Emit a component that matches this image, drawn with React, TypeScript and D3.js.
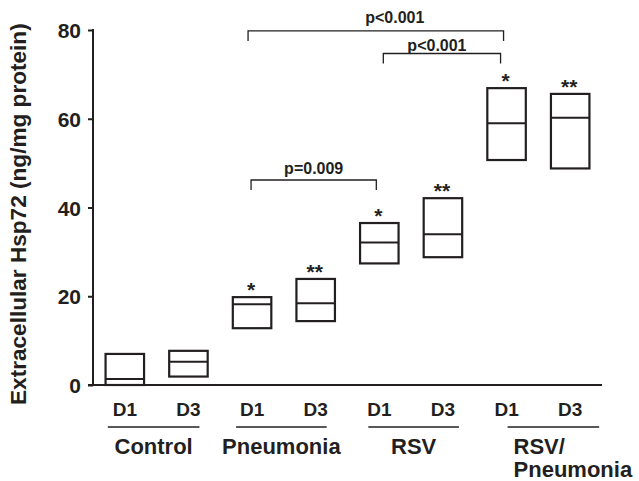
import * as React from 'react';
import * as d3 from 'd3';

// --- data ---
const days = ['D1', 'D3', 'D1', 'D3', 'D1', 'D3', 'D1', 'D3'];
const groups = ['Control', 'Pneumonia', 'RSV', 'RSV/\nPneumonia'];
const lows = [0, 1.9, 12.8, 14.4, 27.4, 28.8, 50.7, 48.8];
const medians = [1.35, 5.25, 18.2, 18.4, 32.1, 34.0, 59.0, 60.2];
const highs = [7.0, 7.7, 19.8, 23.9, 36.5, 42.1, 66.9, 65.6];
const stars = ['', '', '*', '**', '*', '**', '*', '**'];
const yTicks = [0, 20, 40, 60, 80];

const bracketFrom = [2, 4, 2];
const bracketTo = [6, 6, 4];
const bracketLevel = [79.8, 74.7, 46.2];
const bracketLabels = ['p<0.001', 'p<0.001', 'p=0.009'];

// layout tweaks (pixels)
const bracketDx = [[-4, -3], [4, -6], [-1, -3]];
const bracketLabelDx = [19, -5, 0];
const bracketLabelDy = [-8, -3, -6];
const groupLineDx = [[-17, 11], [-16, 11], [-11, 16], [1, 29]];

const INK = '#231f20';
const FONT = '"Liberation Sans", Arial, Helvetica, sans-serif';

export default function App() {
  const ref = React.useRef<SVGSVGElement>(null);

  React.useEffect(() => {
    const svg = d3.select(ref.current);
    svg.selectAll('*').remove();

    const x = d3.scaleBand<number>().domain(d3.range(days.length)).range([93, 602]);
    const y = d3.scaleLinear().domain([0, 80]).range([385, 30]);
    const cx = (i: number) => (x(i) as number) + x.bandwidth() / 2;
    const boxW = 38.5;

    const g = svg.append('g').style('font-family', FONT).style('font-weight', 'bold');

    // y axis
    const yAxis = g.append('g').attr('transform', 'translate(93,0)');
    yAxis
      .call(d3.axisLeft(y).tickValues(yTicks).tickSize(5).tickPadding(7).tickFormat(d3.format('d')))
      .call((s) => s.select('.domain').remove());
    yAxis.selectAll('.tick line').attr('stroke', INK).attr('stroke-width', 2);
    yAxis
      .selectAll('.tick text')
      .attr('fill', INK)
      .style('font-size', '21px')
      .style('font-family', FONT)
      .style('font-weight', 'bold')
      .attr('dy', '0.36em');
    g.append('line')
      .attr('x1', 93).attr('x2', 93)
      .attr('y1', y(80) - 1).attr('y2', y(0))
      .attr('stroke', INK).attr('stroke-width', 2);

    // x axis line
    g.append('line')
      .attr('x1', 88).attr('x2', 602)
      .attr('y1', y(0)).attr('y2', y(0))
      .attr('stroke', INK).attr('stroke-width', 2);

    // y title
    g.append('text')
      .attr('transform', `translate(26,405) rotate(-90)`)
      .attr('fill', INK)
      .style('font-size', '22.6px')
      .text('Extracellular Hsp72 (ng/mg protein)');

    // boxes
    days.forEach((_, i) => {
      const c = cx(i);
      g.append('rect')
        .attr('x', c - boxW / 2)
        .attr('y', y(highs[i]))
        .attr('width', boxW)
        .attr('height', y(lows[i]) - y(highs[i]))
        .attr('fill', 'none')
        .attr('stroke', INK)
        .attr('stroke-width', 2.2);
      g.append('line')
        .attr('x1', c - boxW / 2).attr('x2', c + boxW / 2)
        .attr('y1', y(medians[i])).attr('y2', y(medians[i]))
        .attr('stroke', INK).attr('stroke-width', 2);
      if (stars[i]) {
        g.append('text')
          .attr('x', c - 1)
          .attr('y', y(highs[i]))
          .attr('text-anchor', 'middle')
          .attr('fill', INK)
          .style('font-size', '21px')
          .text(stars[i]);
      }
      g.append('text')
        .attr('x', c)
        .attr('y', 416)
        .attr('text-anchor', 'middle')
        .attr('fill', INK)
        .style('font-size', '19px')
        .text(days[i]);
    });

    // group underlines and labels
    groups.forEach((name, gi) => {
      const a = cx(gi * 2) + groupLineDx[gi][0];
      const b = cx(gi * 2 + 1) + groupLineDx[gi][1];
      g.append('line')
        .attr('x1', a).attr('x2', b)
        .attr('y1', 427).attr('y2', 427)
        .attr('stroke', INK).attr('stroke-width', 1.6);
      const lines = name.split('\n');
      const t = g.append('text')
        .attr('fill', INK)
        .style('font-size', '22px');
      if (lines.length === 1) {
        t.attr('x', (a + b) / 2).attr('y', 454).attr('text-anchor', 'middle').text(name);
      } else {
        lines.forEach((ln, li) => {
          t.append('tspan')
            .attr('x', a + 6)
            .attr('y', 454 + li * 23)
            .text(ln);
        });
      }
    });

    // significance brackets
    bracketLabels.forEach((label, k) => {
      const a = cx(bracketFrom[k]) + bracketDx[k][0];
      const b = cx(bracketTo[k]) + bracketDx[k][1];
      const yy = y(bracketLevel[k]);
      g.append('path')
        .attr('d', `M${a},${yy + 10}V${yy}H${b}V${yy + 10}`)
        .attr('fill', 'none')
        .attr('stroke', INK)
        .attr('stroke-width', 1.3);
      g.append('text')
        .attr('x', (a + b) / 2 + bracketLabelDx[k])
        .attr('y', yy + bracketLabelDy[k])
        .attr('text-anchor', 'middle')
        .attr('fill', INK)
        .style('font-size', '16px')
        .text(label);
    });
  }, []);

  return (
    <svg
      ref={ref}
      width={639}
      height={481}
      style={{ position: 'absolute', left: 0, top: 0, background: '#fff' }}
    />
  );
}
